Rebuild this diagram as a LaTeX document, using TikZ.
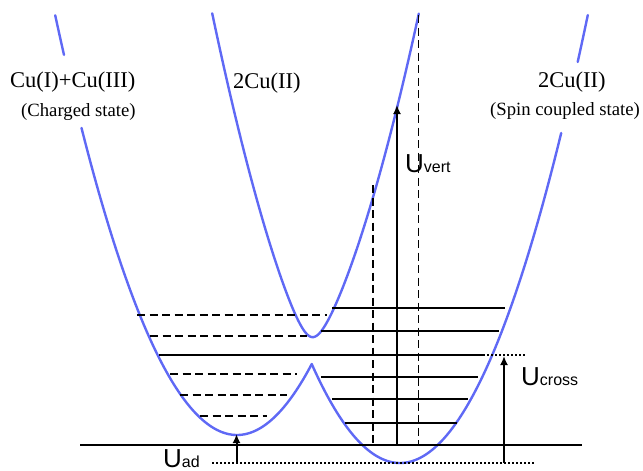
\documentclass[tikz,border=0pt]{standalone}
\usepackage{fontspec}
\setmainfont{Liberation Serif}
\newfontfamily\arialfont{Liberation Sans}
\usetikzlibrary{arrows.meta}
\definecolor{curveblue}{RGB}{95,105,245}
\begin{document}
\begin{tikzpicture}[x=1pt,y=-1pt,
  declare function={
    ya(\t)=435-127*((\t-237)/100)*((\t-237)/100);
    yb(\t)=463-127*((\t-400)/100)*((\t-400)/100);
    dd(\t)=(ya(\t)-yb(\t))/20;
    yu(\t)=(ya(\t)+yb(\t))/2-10*sqrt(dd(\t)*dd(\t)+7.29);},
  pes/.style={curveblue, line width=2.4pt, line join=round, line cap=round},
  level/.style={black, line width=1.8pt},
  dlevel/.style={black, line width=1.8pt, dash pattern=on 8pt off 4.5pt},
  dotline/.style={black, line width=2.2pt, dash pattern=on 2pt off 2pt},
  arr/.style={black, line width=2pt, -{Latex[length=9pt,width=8pt]}},
  bigtxt/.style={font=\fontsize{22.5}{24}\selectfont, inner sep=0pt, anchor=base west},
  smalltxt/.style={font=\fontsize{18.7}{20}\selectfont, inner sep=0pt, anchor=base west},
  ulbl/.style={font=\arialfont, inner sep=0pt, anchor=base west}]
\useasboundingbox (0,0) rectangle (643,471);

% potential energy curves
\draw[pes] plot[domain=55.2:64, samples=10] (\x,{ya(\x)});
\draw[pes] plot[domain=81.5:311.7, samples=120] (\x,{ya(\x)});
\draw[pes] plot[domain=311.7:561.2, samples=120] (\x,{yb(\x)});
\draw[pes] plot[domain=577.7:587.8, samples=10] (\x,{yb(\x)});
\draw[pes] plot[domain=212.2:418.8, samples=160] (\x,{yu(\x)});

% vibrational levels
\draw[level] (80,445) -- (582,445);
\draw[level] (332,308) -- (505,308);
\draw[level] (321,331) -- (499,331);
\draw[level] (159,355) -- (485,355);
\draw[level] (321,377) -- (478,377);
\draw[level] (332,399) -- (468,399);
\draw[level] (345,423) -- (457,423);

\draw[dlevel] (137,315) -- (327,315);
\draw[dlevel] (150,336) -- (307,336);
\draw[dlevel] (170,374) -- (297,374);
\draw[dlevel] (180,395) -- (287,395);
\draw[dlevel] (200,416) -- (267,416);

% vertical dashed lines
\draw[dlevel] (418.5,15) -- (418.5,445);
\draw[dlevel] (373,185) -- (373,445);

% dotted reference lines
\draw[dotline] (212,463) -- (535,463);
\draw[dotline] (487,355) -- (525,355);

% arrows
\coordinate (vb) at (397,445);
\coordinate (vt) at (397,105);
\coordinate (cb) at (504,463);
\coordinate (ct) at (504,356);
\coordinate (ab) at (236.5,463);
\coordinate (at) at (236.5,434);
\draw[arr] (vb) -- (vt);
\draw[arr] (cb) -- (ct);
\draw[arr] (ab) -- (at);

% labels
\node[bigtxt] (l1) at (10,87) {Cu(I)+Cu(III)};
\node[smalltxt] (l2) at (21,116) {(Charged state)};
\node[bigtxt] (l3) at (233,88) {2Cu(II)};
\node[bigtxt] (l4) at (538,87) {2Cu(II)};
\node[smalltxt] (l5) at (490,115) {(Spin coupled state)};

\node[ulbl] (uvert) at (405,172) {\fontsize{26}{28}\selectfont U\fontsize{16}{18}\selectfont vert};
\node[ulbl] (ucross) at (521,385) {\fontsize{26}{28}\selectfont U\fontsize{16}{18}\selectfont cross};
\node[ulbl] (uad) at (163,467) {\fontsize{26}{28}\selectfont U\fontsize{16}{18}\selectfont ad};
\end{tikzpicture}
\end{document}
